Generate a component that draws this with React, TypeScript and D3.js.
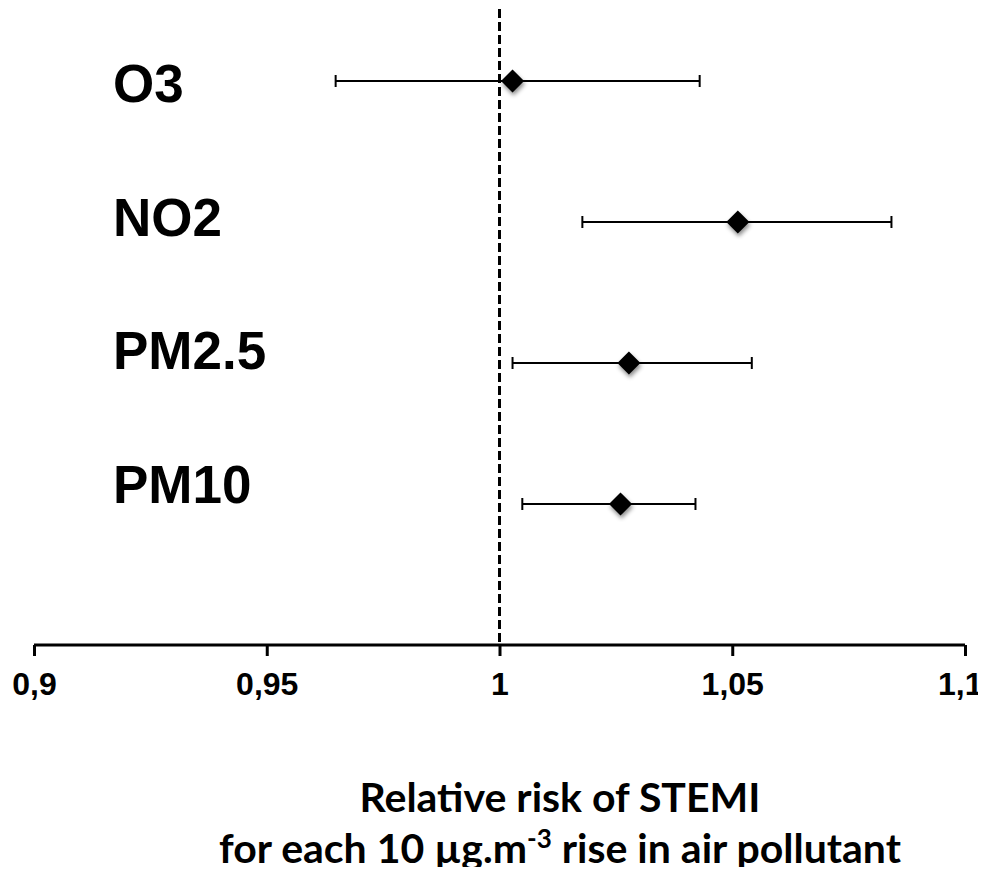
import React, { useEffect, useRef } from "react";
import * as d3 from "d3";

// polluants et risques relatifs (IC 95%)
const pollutants = ["O3", "NO2", "PM2.5", "PM10"];
const rr = [1.0028, 1.0512, 1.0278, 1.026];
const lower = [0.9648, 1.0178, 1.0028, 1.0049];
const upper = [1.043, 1.0842, 1.0542, 1.0421];
const xTicks = [0.9, 0.95, 1, 1.05, 1.1];

const W = 986;
const H = 875;

const App = () => {
  const ref = useRef<SVGSVGElement>(null);

  useEffect(() => {
    const svg = d3.select(ref.current);
    svg.selectAll("*").remove();

    const x = d3.scaleLinear().domain([0.9, 1.1]).range([34, 965]);
    // the blank last slot sits on the axis
    const y = d3.scalePoint().domain([...pollutants, ""]).range([81, 645]);
    const axisY = y("") as number;
    // les étiquettes ne sont pas tout à fait alignées sur les barres
    const yLab = d3.scalePoint().domain(pollutants).range([102, 503]);

    const defs = svg.append("defs");
    const f = defs.append("filter").attr("id", "sh").attr("x", "-50%").attr("y", "-50%").attr("width", "200%").attr("height", "200%");
    f.append("feDropShadow").attr("dx", 1).attr("dy", 3).attr("stdDeviation", 2).attr("flood-color", "#000").attr("flood-opacity", 0.45);

    // ligne de référence
    svg.append("line")
      .attr("x1", x(1)).attr("x2", x(1))
      .attr("y1", 9).attr("y2", axisY)
      .attr("stroke", "#000").attr("stroke-width", 3)
      .attr("stroke-dasharray", "9,4");

    // axe X
    const axis = svg.append("g")
      .attr("transform", `translate(0,${axisY})`)
      .call(d3.axisBottom(x).tickValues(xTicks).tickSize(11).tickPadding(16)
        .tickFormat((d) => String(d).replace(".", ",")));
    axis.attr("font-size", 32).attr("font-family", "Liberation Sans, Arial, sans-serif");
    axis.select(".domain").attr("stroke-width", 3).attr("d", `M${x(0.9)},0H${x(1.1)}`);
    axis.selectAll(".tick line").attr("stroke-width", 3);
    axis.selectAll(".tick text")
      .attr("font-weight", "bold")
      .attr("fill", "#000")
      .style("font-size", "32px");
    // le dernier libellé touche le bord droit
    axis.selectAll(".tick text").filter((d) => d === 1.1)
      .attr("text-anchor", "end").attr("x", 982 - x(1.1));

    const rows = pollutants.map((p, i) => ({ p, rr: rr[i], lo: lower[i], hi: upper[i] }));

    const g = svg.append("g");
    g.selectAll(".ci").data(rows).enter().append("line")
      .attr("x1", (d) => x(d.lo)).attr("x2", (d) => x(d.hi))
      .attr("y1", (d) => y(d.p)!).attr("y2", (d) => y(d.p)!)
      .attr("stroke", "#000").attr("stroke-width", 2);
    g.selectAll(".capl").data(rows).enter().append("line")
      .attr("x1", (d) => x(d.lo)).attr("x2", (d) => x(d.lo))
      .attr("y1", (d) => y(d.p)! - 6).attr("y2", (d) => y(d.p)! + 6)
      .attr("stroke", "#000").attr("stroke-width", 2);
    g.selectAll(".capr").data(rows).enter().append("line")
      .attr("x1", (d) => x(d.hi)).attr("x2", (d) => x(d.hi))
      .attr("y1", (d) => y(d.p)! - 6).attr("y2", (d) => y(d.p)! + 6)
      .attr("stroke", "#000").attr("stroke-width", 2);

    const diamond = d3.symbol().type(d3.symbolDiamond2).size(340);
    g.selectAll(".pt").data(rows).enter().append("path")
      .attr("d", diamond)
      .attr("transform", (d) => `translate(${x(d.rr)},${y(d.p)})`)
      .attr("fill", "#000")
      .attr("filter", "url(#sh)");

    // étiquettes
    svg.selectAll(".lab").data(rows).enter().append("text")
      .attr("x", 113)
      .attr("y", (d) => yLab(d.p)!)
      .attr("font-family", "Liberation Sans, Arial, sans-serif")
      .attr("font-weight", "bold")
      .attr("font-size", 53)
      .attr("fill", "#000")
      .text((d) => d.p);

    // titre de l'axe
    const title = (yy: number) =>
      svg.append("text")
        .attr("x", 560).attr("y", yy)
        .attr("text-anchor", "middle")
        .attr("font-family", "Lato, Open Sans, sans-serif")
        .attr("font-weight", "bold")
        .attr("font-size", 41)
        .attr("fill", "#000");
    title(812).text("Relative risk of STEMI");
    const l2 = title(863);
    l2.append("tspan").text("for each 10 µg.m");
    l2.append("tspan").attr("dy", -15).attr("font-size", 26).text("-3");
    l2.append("tspan").attr("dy", 15).text(" rise in air pollutant");
  }, []);

  return <svg ref={ref} width={W} height={H} style={{ display: "block", margin: -8 }} />;
};

export default App;
